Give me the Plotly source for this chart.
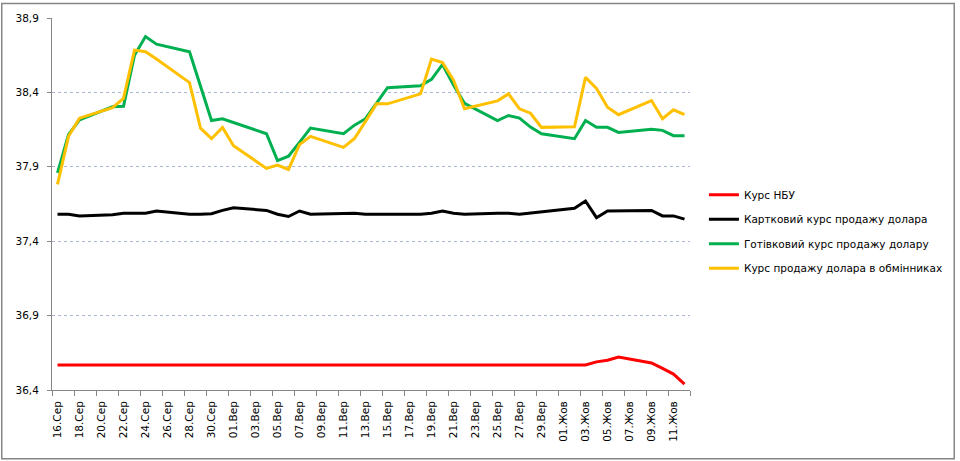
import plotly.graph_objects as go

# day index 0 = 16.08, ... 57 = 12.10
days = list(range(58))

tick_labels = ["16.Сер", "18.Сер", "20.Сер", "22.Сер", "24.Сер", "26.Сер", "28.Сер", "30.Сер",
               "01.Вер", "03.Вер", "05.Вер", "07.Вер", "09.Вер", "11.Вер", "13.Вер", "15.Вер",
               "17.Вер", "19.Вер", "21.Вер", "23.Вер", "25.Вер", "27.Вер", "29.Вер",
               "01.Жов", "03.Жов", "05.Жов", "07.Жов", "09.Жов", "11.Жов"]
tick_days = list(range(0, 58, 2))

N = None
nbu = [36.5686, 36.5686, 36.5686, N, N, 36.5686, 36.5686, 36.5686, 36.5686, 36.5686,
       N, N, 36.5686, 36.5686, 36.5686, 36.5686, 36.5686, N, N, 36.5686,
       36.5686, 36.5686, 36.5686, 36.5686, N, N, 36.5686, 36.5686, 36.5686, 36.5686,
       36.5686, N, N, 36.5686, 36.5686, 36.5686, 36.5686, 36.5686, N, N,
       36.5686, 36.5686, 36.5686, 36.5686, 36.5686, N, N, 36.5686, 36.5686, 36.589,
       36.600, 36.622, N, N, 36.582, 36.545, 36.507, 36.440]
card = [37.581, 37.581, 37.570, N, N, 37.578, 37.588, 37.588, 37.588, 37.603,
        N, N, 37.581, 37.581, 37.585, 37.607, 37.625, N, N, 37.607,
        37.581, 37.566, 37.603, 37.581, N, N, 37.588, 37.588, 37.581, 37.581,
        37.581, N, N, 37.581, 37.588, 37.603, 37.588, 37.581, N, N,
        37.588, 37.588, 37.581, 37.588, 37.599, N, N, 37.621, 37.670, 37.558,
        37.603, 37.603, N, N, 37.607, 37.570, 37.570, 37.548]
cash = [37.859, 38.116, 38.216, N, N, 38.303, 38.307, 38.650, 38.775, 38.724,
        N, N, 38.673, N, 38.211, 38.223, N, N, N, 38.122,
        37.942, 37.971, 38.064, 38.160, N, N, 38.122, 38.180, 38.223, 38.327,
        38.432, N, N, 38.445, 38.488, 38.588, 38.450, 38.327, N, N,
        38.211, 38.245, 38.227, 38.167, 38.122, N, N, 38.089, 38.211, 38.165,
        38.165, 38.131, N, N, 38.153, 38.145, 38.109, 38.109]
exch = [37.782, 38.105, 38.227, N, N, 38.298, 38.360, 38.684, 38.673, 38.624,
        N, N, 38.466, 38.160, 38.089, 38.165, 38.042, N, N, 37.889,
        37.911, 37.882, 38.049, 38.105, N, N, 38.031, 38.090, 38.205, 38.323,
        38.323, N, N, 38.390, 38.624, 38.601, 38.483, 38.290, N, N,
        38.343, 38.390, 38.290, 38.260, 38.165, N, N, 38.169, 38.501, 38.427,
        38.300, 38.250, N, N, 38.345, 38.223, 38.283, 38.250]

series = [
    ("Курс НБУ", nbu, "#FF0000"),
    ("Картковий курс продажу долара", card, "#000000"),
    ("Готівковий курс продажу долару", cash, "#00B050"),
    ("Курс продажу долара в обмінниках", exch, "#FFC000"),
]

FONT = "DejaVu Sans"
fig = go.Figure()
for i, (name, vals, col) in enumerate(series):
    fig.add_trace(go.Scatter(x=days, y=vals, name=name, mode="lines",
                             connectgaps=True, legendgroup=str(i),
                             line=dict(color=col, width=3)))

L, R, T, B = 52, 267, 16, 71
W, H = 960, 461
pw, ph = W - L - R, H - T - B

fig.update_layout(
    width=W, height=H,
    margin=dict(l=L, r=R, t=T, b=B, pad=0),
    paper_bgcolor="white", plot_bgcolor="white",
    separators=", ",
    font=dict(family=FONT, size=10, color="#000000"),
    showlegend=True,
    legend=dict(x=(707 - L) / pw, xanchor="left", xref="paper",
                y=1 - (179 - T) / ph, yanchor="top",
                tracegroupgap=5.5, font=dict(family=FONT, size=10.5, color="#000000"),
                bgcolor="rgba(0,0,0,0)", itemwidth=30),
    xaxis=dict(range=[-0.5, 57.5], tickmode="array", tickvals=tick_days, ticktext=tick_labels,
               tickangle=-90, ticks="", showgrid=False, zeroline=False,
               showline=True, linecolor="#868686", linewidth=1,
               ticklabelstandoff=6,
               minor=dict(tickmode="array", tickvals=[d - 0.5 for d in range(0, 60, 2)],
                          ticks="outside", ticklen=5, tickcolor="#868686", showgrid=False),
               tickfont=dict(family=FONT, size=10.5, color="#000000")),
    yaxis=dict(range=[36.4, 38.9], tick0=36.4, dtick=0.5, tickformat=".1f",
               ticks="outside", ticklen=4, tickcolor="#868686",
               showline=True, linecolor="#868686", linewidth=1,
               showgrid=True, gridcolor="#a9b7d4", griddash="dot", gridwidth=1,
               zeroline=False, ticklabelstandoff=6,
               tickfont=dict(family=FONT, size=10.5, color="#000000")),
)

# outer chart border
fig.add_shape(type="rect", xref="paper", yref="paper",
              x0=(1.5 - L) / pw, x1=(958.5 - L) / pw,
              y0=1 - (459 - T) / ph, y1=1 - (1.5 - T) / ph,
              line=dict(color="#868686", width=1.5), fillcolor="rgba(0,0,0,0)", layer="below")

fig.write_html("out.html")
